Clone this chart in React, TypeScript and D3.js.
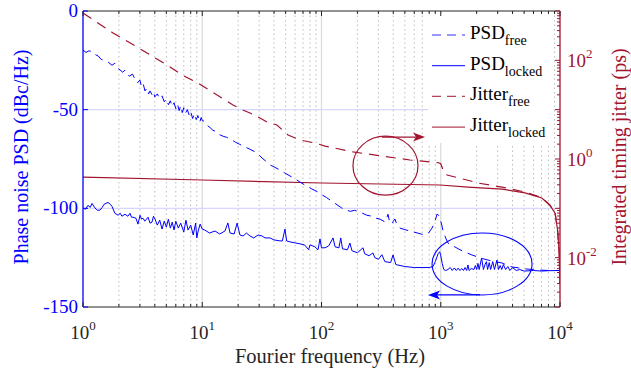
import React, { useEffect } from 'react';
import * as d3 from 'd3';

// PSD free-running (Hz, dBc/Hz)
const psdFree: [number, number][] = [
  [1, -19.8], [1.06, -21], [1.12, -20.2], [1.19, -20.5], [1.26, -22], [1.34, -22.8], [1.42, -24.5],
  [1.53, -25.2], [1.62, -25.8], [1.75, -27.5], [1.85, -26.5], [1.95, -29], [2.04, -29.8], [2.15, -31],
  [2.25, -30], [2.34, -32.2], [2.45, -33], [2.6, -32], [2.73, -34.5], [2.85, -36.5], [3.0, -35],
  [3.1, -38.5], [3.2, -37], [3.31, -40.5], [3.45, -39], [3.55, -42], [3.65, -40.5], [3.8, -42.5],
  [3.9, -41], [4.0, -43.5], [4.2, -42], [4.4, -44.5], [4.6, -43], [4.8, -46], [5.0, -44.5],
  [5.2, -47.5], [5.4, -45.5], [5.6, -48.5], [5.8, -46.5], [6.0, -49.5], [6.2, -47], [6.4, -50.5],
  [6.6, -48], [6.8, -51.5], [7.0, -49], [7.2, -52], [7.5, -50], [7.8, -53], [8.0, -51], [8.3, -54.5],
  [8.6, -52], [8.9, -55], [9.2, -53], [9.5, -56.5], [9.8, -54], [10, -55.5], [10.5, -56], [11, -58],
  [11.6, -59], [12.3, -60.5], [13, -61], [14.1, -62.8], [15, -63.5], [16, -64], [17.8, -65.4],
  [19, -66.5], [20.5, -67.5], [22.8, -68.9], [25, -70], [27.7, -71.4], [30, -73], [31.7, -74.5],
  [34, -76], [37, -78], [40, -79], [44.9, -80.6], [49, -82], [54.4, -83.6], [60, -85], [66, -86.7],
  [74, -88.5], [83, -90.2], [92, -91.5], [101, -93.2], [110, -94.5], [118, -95.8], [130, -97.5],
  [145, -99.5], [157, -100.8], [175, -101.5], [190, -101], [210, -101.9], [240, -103.5], [265, -104],
  [281, -104.9], [310, -105.5], [341, -106.9], [352, -105], [361, -103], [370, -106], [390, -108],
  [400, -106.5], [413, -105.4], [430, -108.5], [455, -110], [500, -110.8], [552, -111.5], [620, -112.3],
  [680, -113], [738, -113.5], [790, -112.5], [845, -110], [890, -107], [931, -102.9], [960, -103.5],
  [986, -105], [1020, -108.5], [1045, -111.5], [1100, -115], [1151, -117.6], [1230, -118.8],
  [1318, -119.6], [1450, -121], [1597, -122.1], [1800, -123.5], [2052, -124.7], [2250, -125.5],
  [2489, -126.2], [2850, -127], [3265, -127.7], [3600, -128.8], [3955, -129.7], [4500, -130.2],
  [5085, -130.7], [6000, -131], [6790, -131.3], [8000, -131.5], [10000, -131.5],
];

// PSD locked (Hz, dBc/Hz)
const psdLocked: [number, number][] = [
  [1, -99.8], [1.05, -100.5], [1.1, -98.5], [1.15, -99.5], [1.19, -97.5], [1.26, -99.8], [1.32, -101],
  [1.39, -100.9], [1.45, -99.5], [1.5, -98], [1.62, -97], [1.7, -98], [1.75, -99], [1.85, -102.5],
  [1.97, -103.5], [2.05, -102.5], [2.12, -104], [2.25, -103], [2.38, -104], [2.48, -102.5],
  [2.55, -104.5], [2.63, -104.5], [2.78, -105], [2.89, -108], [3.01, -103.5], [3.1, -105.5],
  [3.18, -105], [3.3, -106.5], [3.51, -104.5], [3.65, -107.5], [3.79, -107], [3.9, -104], [4.02, -105.5],
  [4.2, -108.5], [4.4, -106], [4.6, -110.5], [4.8, -106.5], [5.0, -109.5], [5.2, -105.5], [5.4, -110],
  [5.6, -107], [5.8, -111], [6.0, -106.5], [6.3, -110], [6.6, -107.5], [7.0, -112], [7.3, -106],
  [7.6, -111], [8.0, -108.5], [8.4, -113.5], [8.8, -107.5], [9.0, -115], [9.2, -112], [9.6, -108],
  [10, -110.5], [10.5, -111], [11.5, -112.5], [12.8, -111.5], [14, -113], [15.5, -111.5],
  [16.4, -107.4], [17.1, -112.5], [18.5, -113], [19.6, -107.5], [20.7, -113.5], [22, -114],
  [23.5, -112.5], [25.1, -114], [27, -115], [29.4, -113.5], [31.7, -114], [33.6, -115], [37, -115],
  [40, -116], [44.9, -116.5], [47, -116.5], [49.4, -110.5], [51, -116.5], [54.4, -117], [60, -117.5],
  [66, -118], [72, -118.5], [78, -121], [80.1, -118.5], [88, -119.5], [93.5, -121], [97.1, -115.5],
  [100, -120], [107, -120], [115, -119], [125, -115], [130, -119.5], [140, -120], [145, -115],
  [150, -120.5], [165, -121], [173, -117.6], [180, -121.5], [200, -122.5], [223, -120], [230, -123],
  [250, -124], [270, -122.6], [280, -125], [300, -125.8], [321, -123.5], [340, -127], [380, -127.5],
  [398, -123.6], [420, -128.5], [500, -129.5], [600, -130], [700, -130], [800, -130], [860, -129.5],
  [900, -127], [950, -123], [980, -122], [1000, -124], [1030, -128], [1060, -131], [1100, -131.5],
  [1150, -131], [1200, -130], [1250, -131.5], [1300, -130.2], [1350, -131.5], [1400, -130.3],
  [1450, -131.5], [1500, -130.5], [1550, -131.5], [1600, -130], [1650, -131.5], [1690, -128.7],
  [1730, -131.5], [1800, -130.5], [1900, -131], [1950, -129], [2000, -131], [2050, -127.9],
  [2100, -131], [2200, -125.2], [2280, -131], [2350, -128.5], [2415, -127], [2470, -131],
  [2550, -127.5], [2620, -131], [2730, -127], [2820, -131], [2960, -126.2], [3050, -131],
  [3150, -129], [3250, -131], [3350, -128.5], [3500, -131], [3650, -129.5], [3800, -131.5],
  [4000, -130], [4300, -131.5], [4600, -131], [5000, -131.8], [6000, -131.5], [7000, -131.8],
  [8000, -131.6], [10000, -131.5],
];

// integrated timing jitter (Hz, ps)
const jitterFree: [number, number][] = [
  [1, 910], [1.785, 358], [2.84, 186], [3.79, 122], [5.06, 80.4], [6.77, 50.5], [9.2, 34.7],
  [18.1, 12.4], [21.9, 9.84], [25.1, 8.55], [30.5, 6.78], [34.9, 5.62], [42.3, 4.89], [52.4, 3.06],
  [66, 2.43], [88, 2.11], [107, 1.83], [184, 1.39], [552, 0.955], [960, 0.84], [1000, 0.8],
  [1070, 0.52], [1130, 0.473], [1655, 0.375], [2052, 0.326], [3265, 0.27], [5085, 0.214],
  [7040, 0.165], [8205, 0.117], [9100, 0.08], [9550, 0.036], [9850, 0.012], [9990, 0.003],
];

const jitterLocked: [number, number][] = [
  [1, 0.431], [10, 0.375], [101, 0.326], [986, 0.297], [1692, 0.27], [3265, 0.246], [5085, 0.205],
  [7040, 0.162], [8205, 0.117], [9100, 0.08], [9550, 0.036], [9850, 0.012], [9990, 0.003],
];

const leftTicks = [0, -50, -100, -150];
const leftGrid = [-50, -100];
const bottomExps = [0, 1, 2, 3, 4];
const rightExps = [-2, 0, 2];
const legendItems = [
  { main: 'PSD', sub: 'free', color: 'blue', dash: true },
  { main: 'PSD', sub: 'locked', color: 'blue', dash: false },
  { main: 'Jitter', sub: 'free', color: 'red', dash: true },
  { main: 'Jitter', sub: 'locked', color: 'red', dash: false },
];

const BLUE = '#0000ff';
const RED = '#a2142f';
const FONT = '"Liberation Serif", "Times New Roman", serif';

export default function App() {
  useEffect(() => {
    document.body.style.margin = '0';
  }, []);

  const left = 83, right = 560, top = 11, bottom = 307;
  const x = d3.scaleLog().domain([1, 1e4]).range([left, right]);
  const yL = d3.scaleLinear().domain([-150, 0]).range([bottom, top]);
  const yR = d3.scaleLog().domain([1e-3, 1e3]).range([bottom, top]);

  const psdPath = d3.line<[number, number]>().x(d => x(d[0])).y(d => yL(d[1]));
  const jitPath = d3.line<[number, number]>().x(d => x(d[0])).y(d => yR(d[1]));

  const isMajor = (v: number) => Math.abs(Math.log10(v) - Math.round(Math.log10(v))) < 1e-9;
  const xTicks = x.ticks();
  const rTicks = yR.ticks();

  const col = (c: string) => (c === 'blue' ? BLUE : RED);

  // annotations in data units
  const redEllipse = { f: 344, db: -78.4 };
  const redArrow = { f0: 322, f1: 738, db: -63.9 };
  const blueEllipse = { f: 2220, db: -128.2 };
  const blueArrow = { f0: 2134, f1: 782, db: -143.9 };

  return (
    <svg width={631} height={374} style={{ display: 'block', background: '#fff' }} fontFamily={FONT}>
      <defs>
        <clipPath id="plot">
          <rect x={left} y={top} width={right - left} height={bottom - top} />
        </clipPath>
      </defs>

      {/* grid */}
      {xTicks.filter(v => v > 1 && v < 1e4).map(v => (
        isMajor(v)
          ? <line key={'g' + v} x1={x(v)} x2={x(v)} y1={top} y2={bottom} stroke="#dcdcdc" strokeWidth={1.3} />
          : <line key={'g' + v} x1={x(v)} x2={x(v)} y1={top} y2={bottom} stroke="#bcbcbc" strokeWidth={1} strokeDasharray="1.5,3" />
      ))}
      {leftGrid.map(v => (
        <line key={'h' + v} x1={left} x2={right} y1={yL(v)} y2={yL(v)} stroke="#d6d6ff" strokeWidth={1.2} />
      ))}

      {/* data */}
      <g clipPath="url(#plot)" fill="none">
        <path d={jitPath(jitterFree) || ''} stroke={RED} strokeWidth={1.2} strokeDasharray="10,7" />
        <path d={jitPath(jitterLocked) || ''} stroke={RED} strokeWidth={1.2} />
        <path d={psdPath(psdFree) || ''} stroke={BLUE} strokeWidth={1} strokeDasharray="9,6" />
        <path d={psdPath(psdLocked) || ''} stroke={BLUE} strokeWidth={1} />
      </g>

      {/* legend */}
      <rect x={428} y={14} width={126} height={129} fill="#fff" />
      {legendItems.map((it, i) => {
        const ry = 35 + i * 30.7;
        return (
          <g key={i}>
            <line x1={432} x2={465} y1={ry} y2={ry} stroke={col(it.color)} strokeWidth={1.2}
              strokeDasharray={it.dash ? '9,6' : undefined} opacity={0.8} />
            <text x={470} y={ry + 4} fontSize={19} fill="#000">
              {it.main}
              <tspan fontSize={14} dy={6}>{it.sub}</tspan>
            </text>
          </g>
        );
      })}

      {/* axes lines */}
      <line x1={left} x2={right} y1={top} y2={top} stroke="#262626" strokeWidth={1} />
      <line x1={left} x2={right} y1={bottom} y2={bottom} stroke="#262626" strokeWidth={1} />
      <line x1={left} x2={left} y1={top} y2={bottom} stroke={BLUE} strokeWidth={1.3} />
      <line x1={right} x2={right} y1={top} y2={bottom} stroke={RED} strokeWidth={1.3} />

      {/* x ticks (top and bottom, inward) */}
      {xTicks.map(v => {
        const len = isMajor(v) ? 5 : 3;
        return (
          <g key={'xt' + v} stroke="#262626" strokeWidth={1}>
            <line x1={x(v)} x2={x(v)} y1={bottom} y2={bottom - len} />
            <line x1={x(v)} x2={x(v)} y1={top} y2={top + len} />
          </g>
        );
      })}
      {bottomExps.map(e => (
        <text key={'xl' + e} x={x(Math.pow(10, e))} y={339} fontSize={19} fill="#262626" textAnchor="middle">
          10<tspan fontSize={13} dy={-9}>{e}</tspan>
        </text>
      ))}

      {/* left ticks */}
      {leftTicks.map(v => (
        <g key={'yl' + v}>
          <line x1={left} x2={left + 5} y1={yL(v)} y2={yL(v)} stroke={BLUE} />
          <text x={78} y={yL(v) + 6} fontSize={19} fill={BLUE} textAnchor="end">{v}</text>
        </g>
      ))}

      {/* right ticks */}
      {rTicks.map(v => {
        const len = isMajor(v) ? 5 : 3;
        return <line key={'rt' + v} x1={right} x2={right - len} y1={yR(v)} y2={yR(v)} stroke={RED} />;
      })}
      {rightExps.map(e => (
        <text key={'rl' + e} x={567} y={yR(Math.pow(10, e)) + 7} fontSize={19} fill={RED}>
          10<tspan fontSize={13} dy={-9}>{e}</tspan>
        </text>
      ))}

      {/* axis titles */}
      <text transform="translate(28,157) rotate(-90)" textAnchor="middle" fontSize={20} fill={BLUE}>
        Phase noise PSD (dBc/Hz)
      </text>
      <text transform="translate(626,157) rotate(-90)" textAnchor="middle" fontSize={20} fill={RED}>
        Integrated timing jitter (ps)
      </text>
      <text x={330} y={363} textAnchor="middle" fontSize={20.5} fill="#262626">
        Fourier frequency (Hz)
      </text>

      {/* annotations */}
      <ellipse cx={x(redEllipse.f)} cy={yL(redEllipse.db)} rx={32.5} ry={29.5} fill="none" stroke={RED} strokeWidth={1.2} />
      <line x1={x(redArrow.f0)} x2={x(redArrow.f1) - 8} y1={yL(redArrow.db)} y2={yL(redArrow.db)} stroke={RED} strokeWidth={1.3} />
      <polygon
        points={`${x(redArrow.f1)},${yL(redArrow.db)} ${x(redArrow.f1) - 12},${yL(redArrow.db) - 4.5} ${x(redArrow.f1) - 9},${yL(redArrow.db)} ${x(redArrow.f1) - 12},${yL(redArrow.db) + 4.5}`}
        fill={RED}
      />
      <ellipse cx={x(blueEllipse.f)} cy={yL(blueEllipse.db)} rx={50} ry={31} fill="none" stroke={BLUE} strokeWidth={1.1} />
      <line x1={x(blueArrow.f0)} x2={x(blueArrow.f1) + 8} y1={yL(blueArrow.db)} y2={yL(blueArrow.db)} stroke={BLUE} strokeWidth={1.2} />
      <polygon
        points={`${x(blueArrow.f1)},${yL(blueArrow.db)} ${x(blueArrow.f1) + 12},${yL(blueArrow.db) - 4.5} ${x(blueArrow.f1) + 9},${yL(blueArrow.db)} ${x(blueArrow.f1) + 12},${yL(blueArrow.db) + 4.5}`}
        fill={BLUE}
      />
    </svg>
  );
}
